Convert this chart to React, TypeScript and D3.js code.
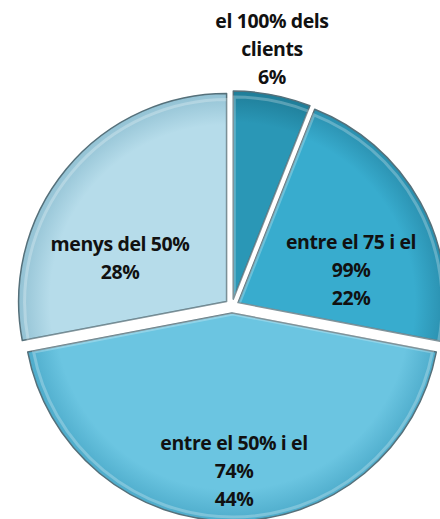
import { useEffect, useRef } from "react";
import { arc, pie, select, PieArcDatum } from "d3";

const categories = ["el 100% dels clients", "entre el 75 i el 99%", "entre el 50% i el 74%", "menys del 50%"];
const values = [6, 22, 44, 28];
const labelLines = [
  ["el 100% dels", "clients", "6%"],
  ["entre el 75 i el", "99%", "22%"],
  ["entre el 50% i el", "74%", "44%"],
  ["menys del 50%", "28%"],
];
const colors = ["#2a97b6", "#38acce", "#6bc5e1", "#b6dcea"];
const darkColors = ["#1f7d98", "#2a8fae", "#4eaccb", "#93c2d4"];

interface Slice {
  name: string;
  value: number;
  idx: number;
}

export default function App() {
  const svgRef = useRef<SVGSVGElement | null>(null);

  useEffect(() => {
    const svg = select(svgRef.current);
    svg.selectAll("*").remove();

    const cx = 232;
    const cy = 306;
    const radius = 208;
    const explode = 7;

    const data: Slice[] = categories.map((name, i) => ({ name, value: values[i], idx: i }));
    const pieGen = pie<Slice>().value((d) => d.value).sort(null);
    const arcs = pieGen(data);
    const arcGen = arc<PieArcDatum<Slice>>().innerRadius(0).outerRadius(radius);
    const innerArc = arc<PieArcDatum<Slice>>().innerRadius(0).outerRadius(radius - 5);

    const defs = svg.append("defs");
    arcs.forEach((a, i) => {
      const g = defs
        .append("radialGradient")
        .attr("id", `grad${i}`)
        .attr("gradientUnits", "userSpaceOnUse")
        .attr("cx", 0)
        .attr("cy", 0)
        .attr("r", radius);
      g.append("stop").attr("offset", "0%").attr("stop-color", colors[i]);
      g.append("stop").attr("offset", "85%").attr("stop-color", colors[i]);
      g.append("stop").attr("offset", "100%").attr("stop-color", darkColors[i]);
    });

    const root = svg.append("g").attr("transform", `translate(${cx},${cy})`);

    const slices = root
      .selectAll(".slice")
      .data(arcs)
      .enter()
      .append("g")
      .attr("class", "slice")
      .attr("transform", (d) => {
        const mid = (d.startAngle + d.endAngle) / 2;
        return `translate(${Math.sin(mid) * explode},${-Math.cos(mid) * explode})`;
      });

    slices
      .append("path")
      .attr("d", arcGen)
      .attr("fill", (d, i) => `url(#grad${i})`)
      .attr("stroke", "#55707a")
      .attr("stroke-width", 1.5)
      .attr("stroke-linejoin", "round");

    slices
      .append("path")
      .attr("d", innerArc)
      .attr("fill", "none")
      .attr("stroke", "#ffffff")
      .attr("stroke-opacity", 0.25)
      .attr("stroke-width", 3)
      .attr("transform", "translate(1,1)");

    // labels
    const labelPos: [number, number][] = [
      [272, 21],
      [351, 242],
      [234, 443],
      [120, 244],
    ];
    const lineH = 28;
    const labels = svg
      .selectAll(".label")
      .data(arcs)
      .enter()
      .append("text")
      .attr("class", "label")
      .attr("text-anchor", "middle")
      .attr("font-family", "'Open Sans', Lato, sans-serif")
      .attr("font-weight", "bold")
      .attr("font-size", 19.5)
      .attr("letter-spacing", -0.4)
      .attr("fill", "#111");
    labels.each(function (d, i) {
      const t = select(this);
      labelLines[i].forEach((line, j) => {
        t.append("tspan")
          .attr("x", labelPos[i][0])
          .attr("y", labelPos[i][1] + j * lineH)
          .attr("dy", "0.35em")
          .text(line);
      });
    });
  }, []);

  return (
    <svg
      ref={svgRef}
      width={440}
      height={519}
      style={{ position: "absolute", left: 0, top: 0, background: "#fff" }}
    ></svg>
  );
}
